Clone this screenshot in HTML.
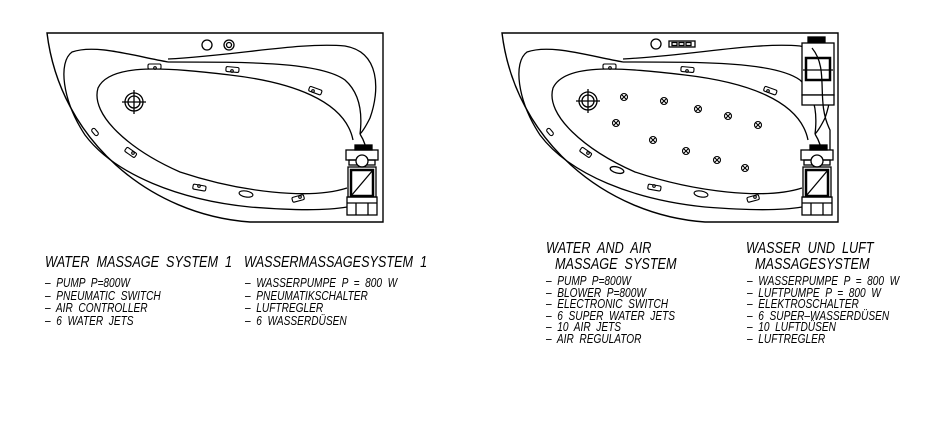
<!DOCTYPE html>
<html><head><meta charset="utf-8"><style>
html,body{margin:0;padding:0;background:#fff;width:933px;height:427px;overflow:hidden}
svg{position:absolute;left:0;top:0}
.t{position:absolute;font-family:"Liberation Sans",sans-serif;font-style:italic;color:#000;white-space:pre;transform-origin:0 0;line-height:1}
.h{font-size:16px;transform:scaleX(0.79)}
.i{font-size:12.5px;transform:scaleX(0.81);line-height:12.5px}
.j{line-height:11.6px}
</style></head><body>
<svg width="933" height="427" viewBox="0 0 933 427" fill="none" stroke="#000" stroke-width="1.3">
<defs>
<g id="bath">
<path d="M47,33 L383,33 L383,222 L250,222 C150,215 60,140 47,33 Z" stroke-width="1.4"/>
<path d="M168,62 C130,55 95,44 72,52 C58,62 62,100 85,135 C115,175 180,200 250,207 C300,211 330,210 347,207"/>
<path d="M168,59 C240,55 300,42 345,46 C380,52 380,90 370,118 C365,128 362,132 360,134"/>
<path d="M168,62 C250,62 320,62 345,80 C362,95 362,118 360,134"/>
<path d="M360,134 C365,142 366,148 366,150"/>
<path d="M353,140 C345,100 290,82 230,75 C170,68 110,62 98,88 C90,115 130,150 180,172 C240,192 310,200 347,188"/>
<rect x="355" y="145" width="17" height="5" fill="#000"/>
<rect x="346" y="150" width="32" height="10"/>
<rect x="349" y="160" width="26" height="5"/>
<circle cx="362" cy="161" r="6" fill="#fff"/>
<rect x="348" y="167" width="28" height="30"/>
<rect x="351" y="170" width="22" height="26" stroke-width="2.5"/>
<line x1="351" y1="196" x2="373" y2="170"/>
<rect x="347" y="197" width="30" height="18"/>
<line x1="347" y1="203" x2="377" y2="203"/>
<line x1="356" y1="203" x2="356" y2="215"/><line x1="368" y1="203" x2="368" y2="215"/>
<g stroke-width="1.1">
<rect x="148" y="64" width="13" height="5" rx="1.5"/><circle cx="155" cy="68" r="1.3"/>
<rect x="226" y="67" width="13" height="5" rx="1.5" transform="rotate(5 232 69)"/><circle cx="232" cy="71" r="1.3"/>
<rect x="309" y="88" width="13" height="5" rx="1.5" transform="rotate(20 315 90)"/><circle cx="313" cy="91" r="1.3"/>
<rect x="91" y="130" width="8" height="4" rx="2" transform="rotate(50 95 132)"/>
<rect x="125" y="150" width="12" height="5" rx="1.5" transform="rotate(35 131 152)"/><circle cx="133" cy="153" r="1.3"/>
<rect x="193" y="185" width="13" height="5" rx="1.5" transform="rotate(10 199 187)"/><circle cx="199" cy="186" r="1.3"/>
<ellipse cx="246" cy="194" rx="7" ry="3" transform="rotate(10 246 194)"/>
<rect x="292" y="196" width="12" height="5" rx="1.5" transform="rotate(-15 298 198)"/><circle cx="300" cy="197" r="1.3"/>
</g>
</g>
<g id="drain"><circle r="9"/><circle r="6"/><line x1="-12" y1="0" x2="12" y2="0"/><line x1="0" y1="-12" x2="0" y2="12"/></g>
<g id="aj" stroke-width="1.1"><circle r="3.5"/><line x1="-2.5" y1="-2.5" x2="2.5" y2="2.5"/><line x1="-2.5" y1="2.5" x2="2.5" y2="-2.5"/></g>
</defs>
<use href="#bath"/>
<use href="#drain" x="134" y="102"/>
<circle cx="207" cy="45" r="5"/>
<circle cx="229" cy="45" r="5"/><circle cx="229" cy="45" r="2.5"/>

<use href="#bath" x="455"/>
<use href="#drain" x="588" y="101"/>
<circle cx="656" cy="44" r="5"/>
<rect x="669" y="41" width="26" height="6"/>
<rect x="672" y="42.5" width="5" height="3"/><rect x="679" y="42.5" width="5" height="3"/><rect x="686" y="42.5" width="5" height="3"/>
<rect x="808" y="37" width="17" height="6" fill="#000"/>
<rect x="802" y="43" width="32" height="52" fill="#fff"/>
<rect x="806" y="58" width="24" height="22" stroke-width="2.5"/>
<line x1="803" y1="70" x2="833" y2="70"/>
<rect x="802" y="95" width="32" height="10" fill="#fff"/>
<path d="M812,48 C830,70 815,100 830,130 L830,150"/>
<g>
<use href="#aj" x="624" y="97"/><use href="#aj" x="664" y="101"/><use href="#aj" x="698" y="109"/>
<use href="#aj" x="728" y="116"/><use href="#aj" x="758" y="125"/><use href="#aj" x="616" y="123"/>
<use href="#aj" x="653" y="140"/><use href="#aj" x="686" y="151"/><use href="#aj" x="717" y="160"/>
<use href="#aj" x="745" y="168"/>
</g>
<ellipse cx="617" cy="170" rx="7" ry="3" transform="rotate(15 617 170)"/>
</svg>

<div class="t h" style="left:45px;top:255px">WATER  MASSAGE  SYSTEM  1</div>
<div class="t h" style="left:244px;top:255px">WASSERMASSAGESYSTEM  1</div>
<div class="t i" style="left:45px;top:277px">–  PUMP  P=800W
–  PNEUMATIC  SWITCH
–  AIR  CONTROLLER
–  6  WATER  JETS</div>
<div class="t i" style="left:245px;top:277px">–  WASSERPUMPE  P  =  800  W
–  PNEUMATIKSCHALTER
–  LUFTREGLER
–  6  WASSERDÜSEN</div>

<div class="t h" style="left:546px;top:241px">WATER  AND  AIR</div>
<div class="t h" style="left:555px;top:257px">MASSAGE  SYSTEM</div>
<div class="t h" style="left:746px;top:241px">WASSER  UND  LUFT</div>
<div class="t h" style="left:755px;top:257px">MASSAGESYSTEM</div>
<div class="t i j" style="left:546px;top:276px">–  PUMP  P=800W
–  BLOWER  P=800W
–  ELECTRONIC  SWITCH
–  6  SUPER  WATER  JETS
–  10  AIR  JETS
–  AIR  REGULATOR</div>
<div class="t i j" style="left:747px;top:276px">–  WASSERPUMPE  P  =  800  W
–  LUFTPUMPE  P  =  800  W
–  ELEKTROSCHALTER
–  6  SUPER–WASSERDÜSEN
–  10  LUFTDÜSEN
–  LUFTREGLER</div>
</body></html>
